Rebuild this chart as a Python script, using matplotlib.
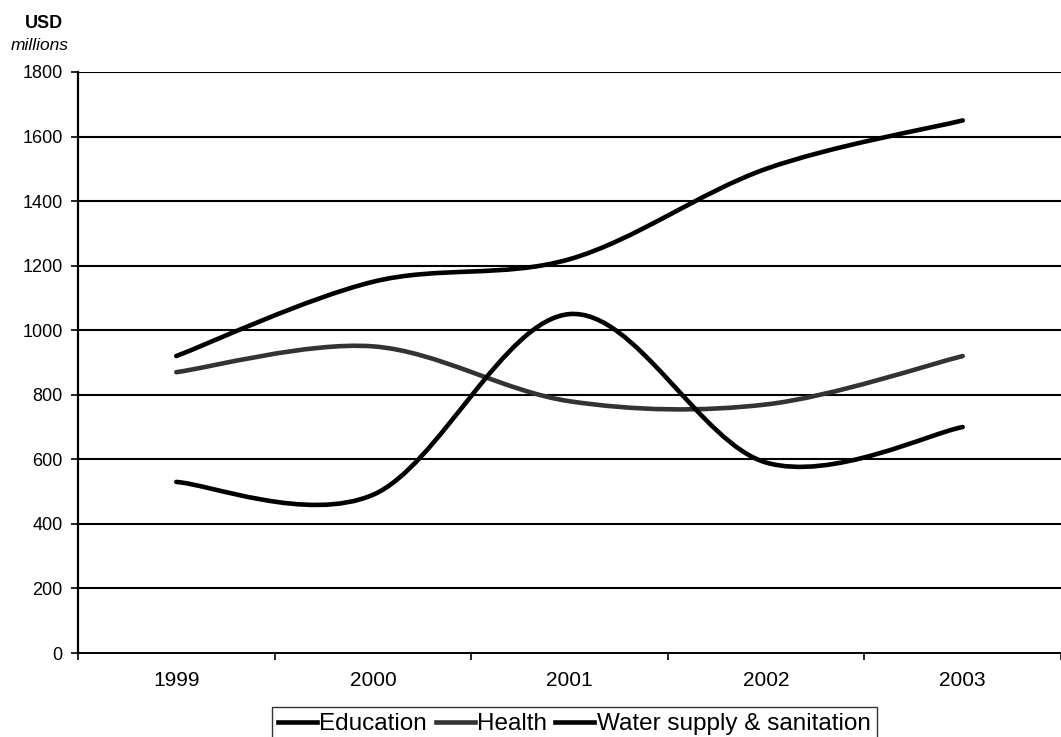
import numpy as np
import matplotlib
matplotlib.use("Agg")
import matplotlib.pyplot as plt
from matplotlib.path import Path
from matplotlib.patches import PathPatch
from matplotlib.lines import Line2D

plt.rcParams['font.family'] = ['Liberation Sans', 'DejaVu Sans']

years = ["1999", "2000", "2001", "2002", "2003"]
education = [920, 1150, 1220, 1500, 1650]
health = [870, 950, 780, 770, 920]
water = [530, 490, 1050, 590, 700]
y_ticks = [0, 200, 400, 600, 800, 1000, 1200, 1400, 1600, 1800]

series = [("Education", education, "#000000"),
          ("Health", health, "#333333"),
          ("Water supply & sanitation", water, "#000000")]


def smooth_path(xs, ys):
    pts = np.column_stack([xs, ys]).astype(float)
    n = len(pts)
    verts = [pts[0]]
    codes = [Path.MOVETO]
    for i in range(n - 1):
        p0 = pts[i - 1] if i > 0 else pts[i]
        p1 = pts[i]
        p2 = pts[i + 1]
        p3 = pts[i + 2] if i + 2 < n else pts[i + 1]
        c1 = p1 + (p2 - p0) / 6.0
        c2 = p2 - (p3 - p1) / 6.0
        verts += [c1, c2, p2]
        codes += [Path.CURVE4] * 3
    return Path(verts, codes)


W, H = 1061, 737
fig = plt.figure(figsize=(W / 100, H / 100), dpi=100)
ax = fig.add_axes([78 / W, 1 - 653 / H, 1 - 78 / W, (653 - 72) / H])

x = np.arange(len(years))
for yv in y_ticks[1:]:
    ax.axhline(yv, color="black", lw=1.5, zorder=1)

handles = []
for name, vals, col in series:
    p = PathPatch(smooth_path(x, vals), facecolor="none", edgecolor=col,
                  lw=3.3, capstyle="round", joinstyle="round", zorder=3)
    ax.add_patch(p)
    handles.append(Line2D([], [], color=col, lw=3.3))

ax.set_xlim(-0.5, -0.5 + (W - 78) / 199.0)
ax.set_ylim(0, 1800)
ax.set_yticks(y_ticks)
ax.set_yticklabels([str(v) for v in y_ticks], fontsize=13)
ax.set_xticks(x)
ax.set_xticklabels(years, fontsize=15)
ax.set_xticks(np.arange(-0.5, 4.6, 1.0), minor=True)
ax.tick_params(axis="x", which="major", length=0, pad=13)
ax.tick_params(axis="x", which="minor", length=5, width=1.2, direction="out")
ax.tick_params(axis="y", length=5, width=1.2, direction="out", pad=6)
for s in ["top", "right"]:
    ax.spines[s].set_visible(False)
ax.spines["left"].set_linewidth(1.6)
ax.spines["bottom"].set_linewidth(1.4)

fig.text(25 / W, 1 - 23 / H, "USD", fontsize=13, fontweight="bold",
         ha="left", va="center")
fig.text(11 / W, 1 - 46 / H, "millions", fontsize=12.5, style="italic",
         ha="left", va="center")

leg = fig.legend(handles, [s[0] for s in series], loc="upper left",
                 bbox_to_anchor=(272 / W, 1 - 707 / H), ncol=3,
                 frameon=True, fancybox=False, fontsize=17.5,
                 handlelength=1.6, handletextpad=0.1, columnspacing=0.35,
                 borderpad=0.25, borderaxespad=0)
leg.get_frame().set_edgecolor("black")
leg.get_frame().set_linewidth(1.0)

fig.savefig("out.png", dpi=100, facecolor="white")
